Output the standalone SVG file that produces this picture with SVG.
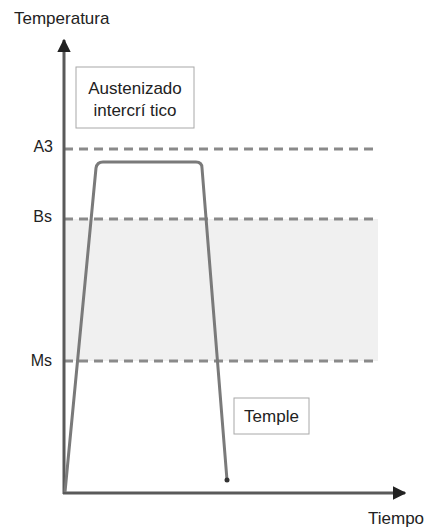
<svg xmlns="http://www.w3.org/2000/svg" width="430" height="530" viewBox="0 0 430 530">
  <style>
    text { font-family: "Liberation Sans", Arial, sans-serif; fill: #222; }
    .lbl { font-size: 17px; }
    .lvl { font-size: 16px; text-anchor: end; }
    .dash { stroke: #8a8a8a; stroke-width: 3; stroke-dasharray: 9 6; fill: none; }
    .axis { stroke: #5a5a5a; stroke-width: 3; fill: none; }
    .curve { stroke: #7a7a7a; stroke-width: 3; fill: none; stroke-linejoin: round; }
    .box { fill: #fff; stroke: #a8a8a8; stroke-width: 1; }
  </style>
  <defs>
    <marker id="arrow" viewBox="0 0 10 10" refX="9" refY="5" markerWidth="4.5" markerHeight="4.5" orient="auto" markerUnits="strokeWidth">
      <path d="M0,0 L10,5 L0,10 z" fill="#222"/>
    </marker>
  </defs>

  <rect width="430" height="530" fill="#fff"/>

  <!-- band between Bs and Ms -->
  <rect x="64" y="219" width="314" height="142" fill="#f0f0f0"/>

  <!-- temperature level lines -->
  <g id="levels">
    <line class="dash" x1="64" y1="149" x2="378" y2="149"/>
    <line class="dash" x1="64" y1="219" x2="378" y2="219"/>
    <line class="dash" x1="64" y1="361" x2="378" y2="361"/>
    <text class="lvl" x="53" y="152">A3</text>
    <text class="lvl" x="52" y="222">Bs</text>
    <text class="lvl" x="52" y="366">Ms</text>
  </g>

  <g id="connectors">
    <!-- axes -->
    <line class="axis" x1="64" y1="494" x2="64" y2="40" marker-end="url(#arrow)"/>
    <line class="axis" x1="63" y1="493" x2="405" y2="493" marker-end="url(#arrow)"/>
    <!-- thermal cycle -->
    <path class="curve" d="M65,492 L96,168 Q97,162 103,162 L196,162 Q202,162 202,168 L227,480"/>
    <circle cx="227" cy="480" r="2.5" fill="#333"/>
  </g>

  <g id="axis-y-label">
    <text class="lbl" x="14" y="24">Temperatura</text>
  </g>
  <g id="axis-x-label">
    <text class="lbl" x="368" y="524">Tiempo</text>
  </g>

  <g id="austenizado">
    <rect class="box" x="76" y="67" width="118" height="61"/>
    <text class="lbl" x="135" y="94" text-anchor="middle">Austenizado</text>
    <text class="lbl" x="135" y="116" text-anchor="middle">intercrí tico</text>
  </g>

  <g id="temple">
    <rect class="box" x="234" y="398" width="75" height="36"/>
    <text class="lbl" x="271.5" y="422" text-anchor="middle">Temple</text>
  </g>
</svg>
